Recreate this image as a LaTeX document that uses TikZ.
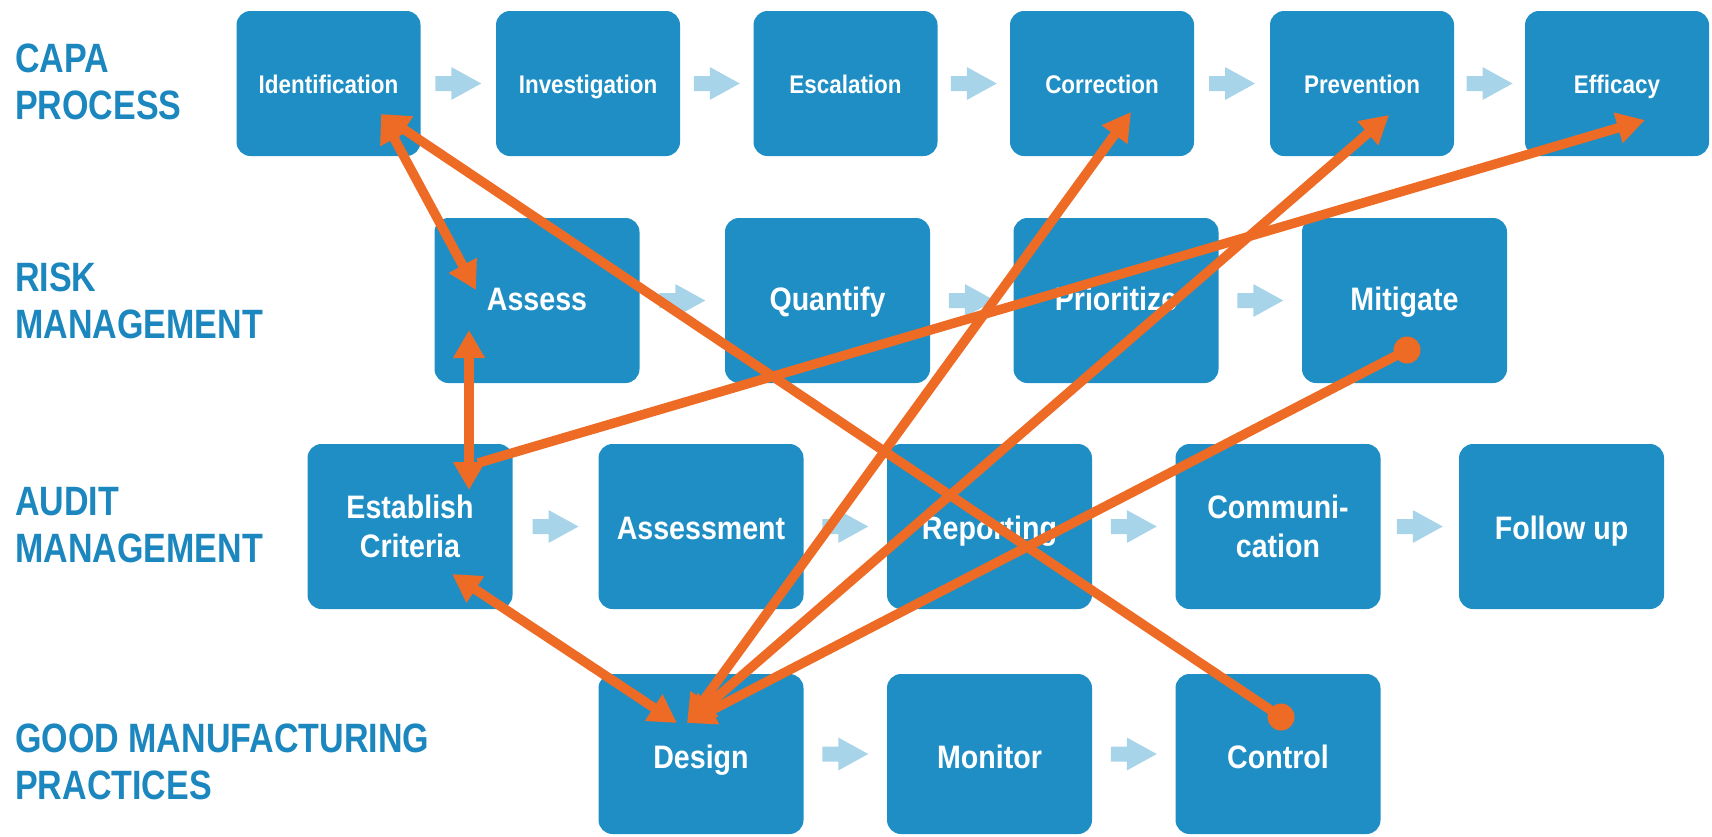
\documentclass[tikz,border=0pt]{standalone}
\usepackage{fontspec}
\setmainfont{Liberation Sans}[FakeStretch=0.88]
\newfontfamily\lblfont{Liberation Sans}[FakeStretch=0.83]
\usetikzlibrary{arrows.meta,calc}
\definecolor{boxblue}{RGB}{30,142,196}
\definecolor{lblblue}{RGB}{27,135,190}
\definecolor{flowblue}{RGB}{168,212,234}
\definecolor{linkorange}{RGB}{238,107,37}
\tikzset{
  box/.style={fill=boxblue, rounded corners=14pt, text=white, align=center, inner sep=0pt,
    font=\bfseries\fontsize{32.5}{39}\selectfont},
  toprow/.style={box, minimum width=184pt, minimum height=145pt,
    text height=21.5pt, text depth=1.5pt,
    font=\bfseries\fontsize{25.5}{29}\selectfont},
  midrow/.style={box, minimum width=205pt, minimum height=165pt},
  lowrow/.style={box, minimum width=205pt, minimum height=160pt,
    text height=29pt, text depth=1pt},
  onelineA/.style={text height=24.5pt, text depth=5.5pt},
  onelineB/.style={text height=28pt, text depth=2pt},
  rowlabel/.style={anchor=west, align=left, text=lblblue, inner sep=0pt,
    font=\lblfont\bfseries\fontsize{41}{47}\selectfont},
  link/.style={draw=linkorange, line width=9.5pt, >={Triangle[length=28pt,width=30pt]}},
  linkdot/.style={circle, fill=linkorange, minimum size=27pt, inner sep=0pt},
  bluearrow/.pic={\fill[flowblue] (-23,-7.5) -- (-7,-7.5) -- (-7,-16.5) -- (23,0) -- (-7,16.5) -- (-7,7.5) -- (-23,7.5) -- cycle;}
}
\begin{document}
\begin{tikzpicture}[x=1pt,y=-1pt]
\useasboundingbox (0,0) rectangle (1712,836);
% row labels
\node[rowlabel] (lcapa) at (15,81.5) {CAPA\\PROCESS};
\node[rowlabel] (lrisk) at (15,300.5) {RISK\\MANAGEMENT};
\node[rowlabel] (laudit) at (15,525) {AUDIT\\MANAGEMENT};
\node[rowlabel] (lgmp) at (15,762) {GOOD MANUFACTURING\\PRACTICES};
% row 1
\node[toprow] (ident) at (328.5,83.5) {Identification};
\node[toprow] (invest) at (588,83.5) {Investigation};
\node[toprow] (escal) at (845.5,83.5) {Escalation};
\node[toprow] (corr) at (1102,83.5) {Correction};
\node[toprow] (prev) at (1362,83.5) {Prevention};
\node[toprow] (effi) at (1617,83.5) {Efficacy};
% row 2
\node[midrow,onelineA] (assess) at (537,300.5) {Assess};
\node[midrow,onelineA] (quant) at (827.5,300.5) {Quantify};
\node[midrow,onelineA] (prio) at (1116,300.5) {Prioritize};
\node[midrow,onelineA] (miti) at (1404.5,300.5) {Mitigate};
% row 3
\node[midrow] (estab) at (410,526.5) {Establish\\Criteria};
\node[midrow,onelineB] (asmt) at (701,526.5) {Assessment};
\node[midrow,onelineB] (repo) at (989.5,526.5) {Reporting};
\node[midrow] (comm) at (1278,526.5) {Communi-\\cation};
\node[midrow,onelineB] (follow) at (1561.5,526.5) {Follow up};
% row 4
\node[lowrow] (design) at (701,754) {Design};
\node[lowrow] (moni) at (989.5,754) {Monitor};
\node[lowrow] (ctrl) at (1278,754) {Control};
% light blue flow arrows
\foreach \a/\b in {ident/invest, invest/escal, escal/corr, corr/prev, prev/effi,
  assess/quant, quant/prio, prio/miti,
  estab/asmt, asmt/repo, repo/comm, comm/follow,
  design/moni, moni/ctrl}
  \pic at ($(\a.east)!0.5!(\b.west)$) {bluearrow};
% orange link end points
\coordinate (tId) at ($(ident.center)+(52.5,30.5)$);
\coordinate (tAsTop) at ($(assess.center)+(-61,-10.5)$);
\coordinate (tAsBot) at ($(assess.center)+(-68,29.5)$);
\coordinate (tEsTop) at ($(estab.center)+(59,-36.5)$);
\coordinate (tEsBot) at ($(estab.center)+(42,47.5)$);
\coordinate (sEff) at ($(estab.center)+(68,-63.5)$);
\coordinate (tDeL) at ($(design.center)+(-24,-31)$);
\coordinate (tDeR) at ($(design.center)+(-14,-31)$);
\coordinate (tCor) at ($(corr.center)+(29,28.5)$);
\coordinate (tPre) at ($(prev.center)+(27,31.5)$);
\coordinate (tEff) at ($(effi.center)+(28,36.5)$);
\node[linkdot] (dMit) at ($(miti.center)+(2.5,49.5)$) {};
\node[linkdot] (dCon) at ($(ctrl.center)+(3,-37)$) {};
% orange links
\draw[link,<->] (tId) -- (tAsTop);
\draw[link,<->] (tAsBot) -- (tEsTop);
\draw[link,->] (sEff) -- (tEff);
\draw[link,<->] (tEsBot) -- (tDeL);
\draw[link,->] (dCon.center) -- (tId);
\draw[link,<->] (tDeR) -- (tCor);
\draw[link,<->] (tDeR) -- (tPre);
\draw[link,->] (dMit.center) -- (tDeR);
\end{tikzpicture}
\end{document}
